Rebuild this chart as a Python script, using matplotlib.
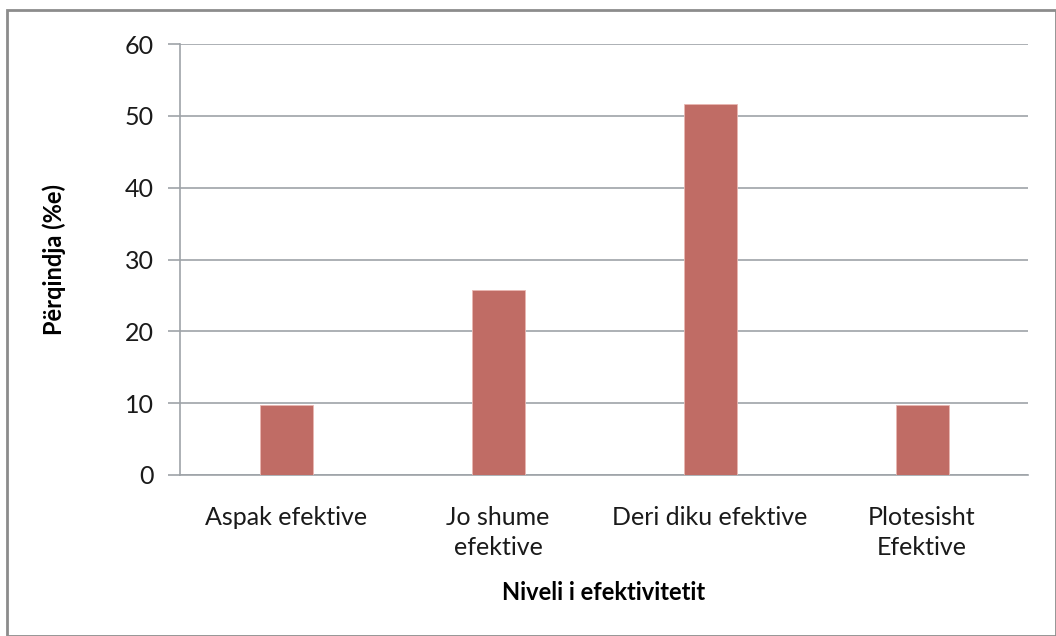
import matplotlib
matplotlib.use("Agg")
import matplotlib.pyplot as plt
from matplotlib.patches import Rectangle

# Data
categories = ["Aspak efektive", "Jo shume\nefektive", "Deri diku efektive", "Plotesisht\nEfektive"]
values = [9.68, 25.81, 51.61, 9.68]
yticks = [0, 10, 20, 30, 40, 50, 60]

plt.rcParams["font.family"] = ["Lato", "DejaVu Sans"]

fig = plt.figure(figsize=(10.56, 6.36), dpi=100)
ax = fig.add_axes([180 / 1056, 1 - 475 / 636, (1028 - 180) / 1056, (475 - 44) / 636])

grid_col = "#9ea3a8"
x = list(range(len(categories)))
ax.bar(x, values, width=0.25, color="#c06c65", edgecolor="#e9b7b2", linewidth=0.6, zorder=3)

ax.set_xlim(-0.5, len(categories) - 0.5)
ax.set_ylim(0, 60)
ax.set_yticks(yticks)
ax.set_xticks(x)
ax.set_xticklabels(categories, fontsize=18, color="#1a1a1a", linespacing=1.4)
ax.tick_params(axis="y", labelsize=18, labelcolor="#1a1a1a", length=9, color=grid_col, width=1.2, pad=10)
ax.tick_params(axis="x", length=0, pad=22)

ax.grid(axis="y", color=grid_col, linewidth=1.2, zorder=0)
for side in ["top", "right"]:
    ax.spines[side].set_visible(False)
ax.spines["left"].set_color(grid_col)
ax.spines["left"].set_linewidth(1.2)
ax.spines["bottom"].set_color(grid_col)
ax.spines["bottom"].set_linewidth(1.2)

ax.set_ylabel("Përqindja (%e)", fontsize=17, fontweight="bold", labelpad=42)
ax.set_xlabel("Niveli i efektivitetit", fontsize=17, fontweight="bold", labelpad=16)

# outer chart border
fig.patches.append(Rectangle((7 / 1056, 0), 1 - 7 / 1056, 1 - 10 / 636, transform=fig.transFigure,
                             fill=False, edgecolor="#8c8c8c", linewidth=2))

fig.savefig("out.png", dpi=100)
